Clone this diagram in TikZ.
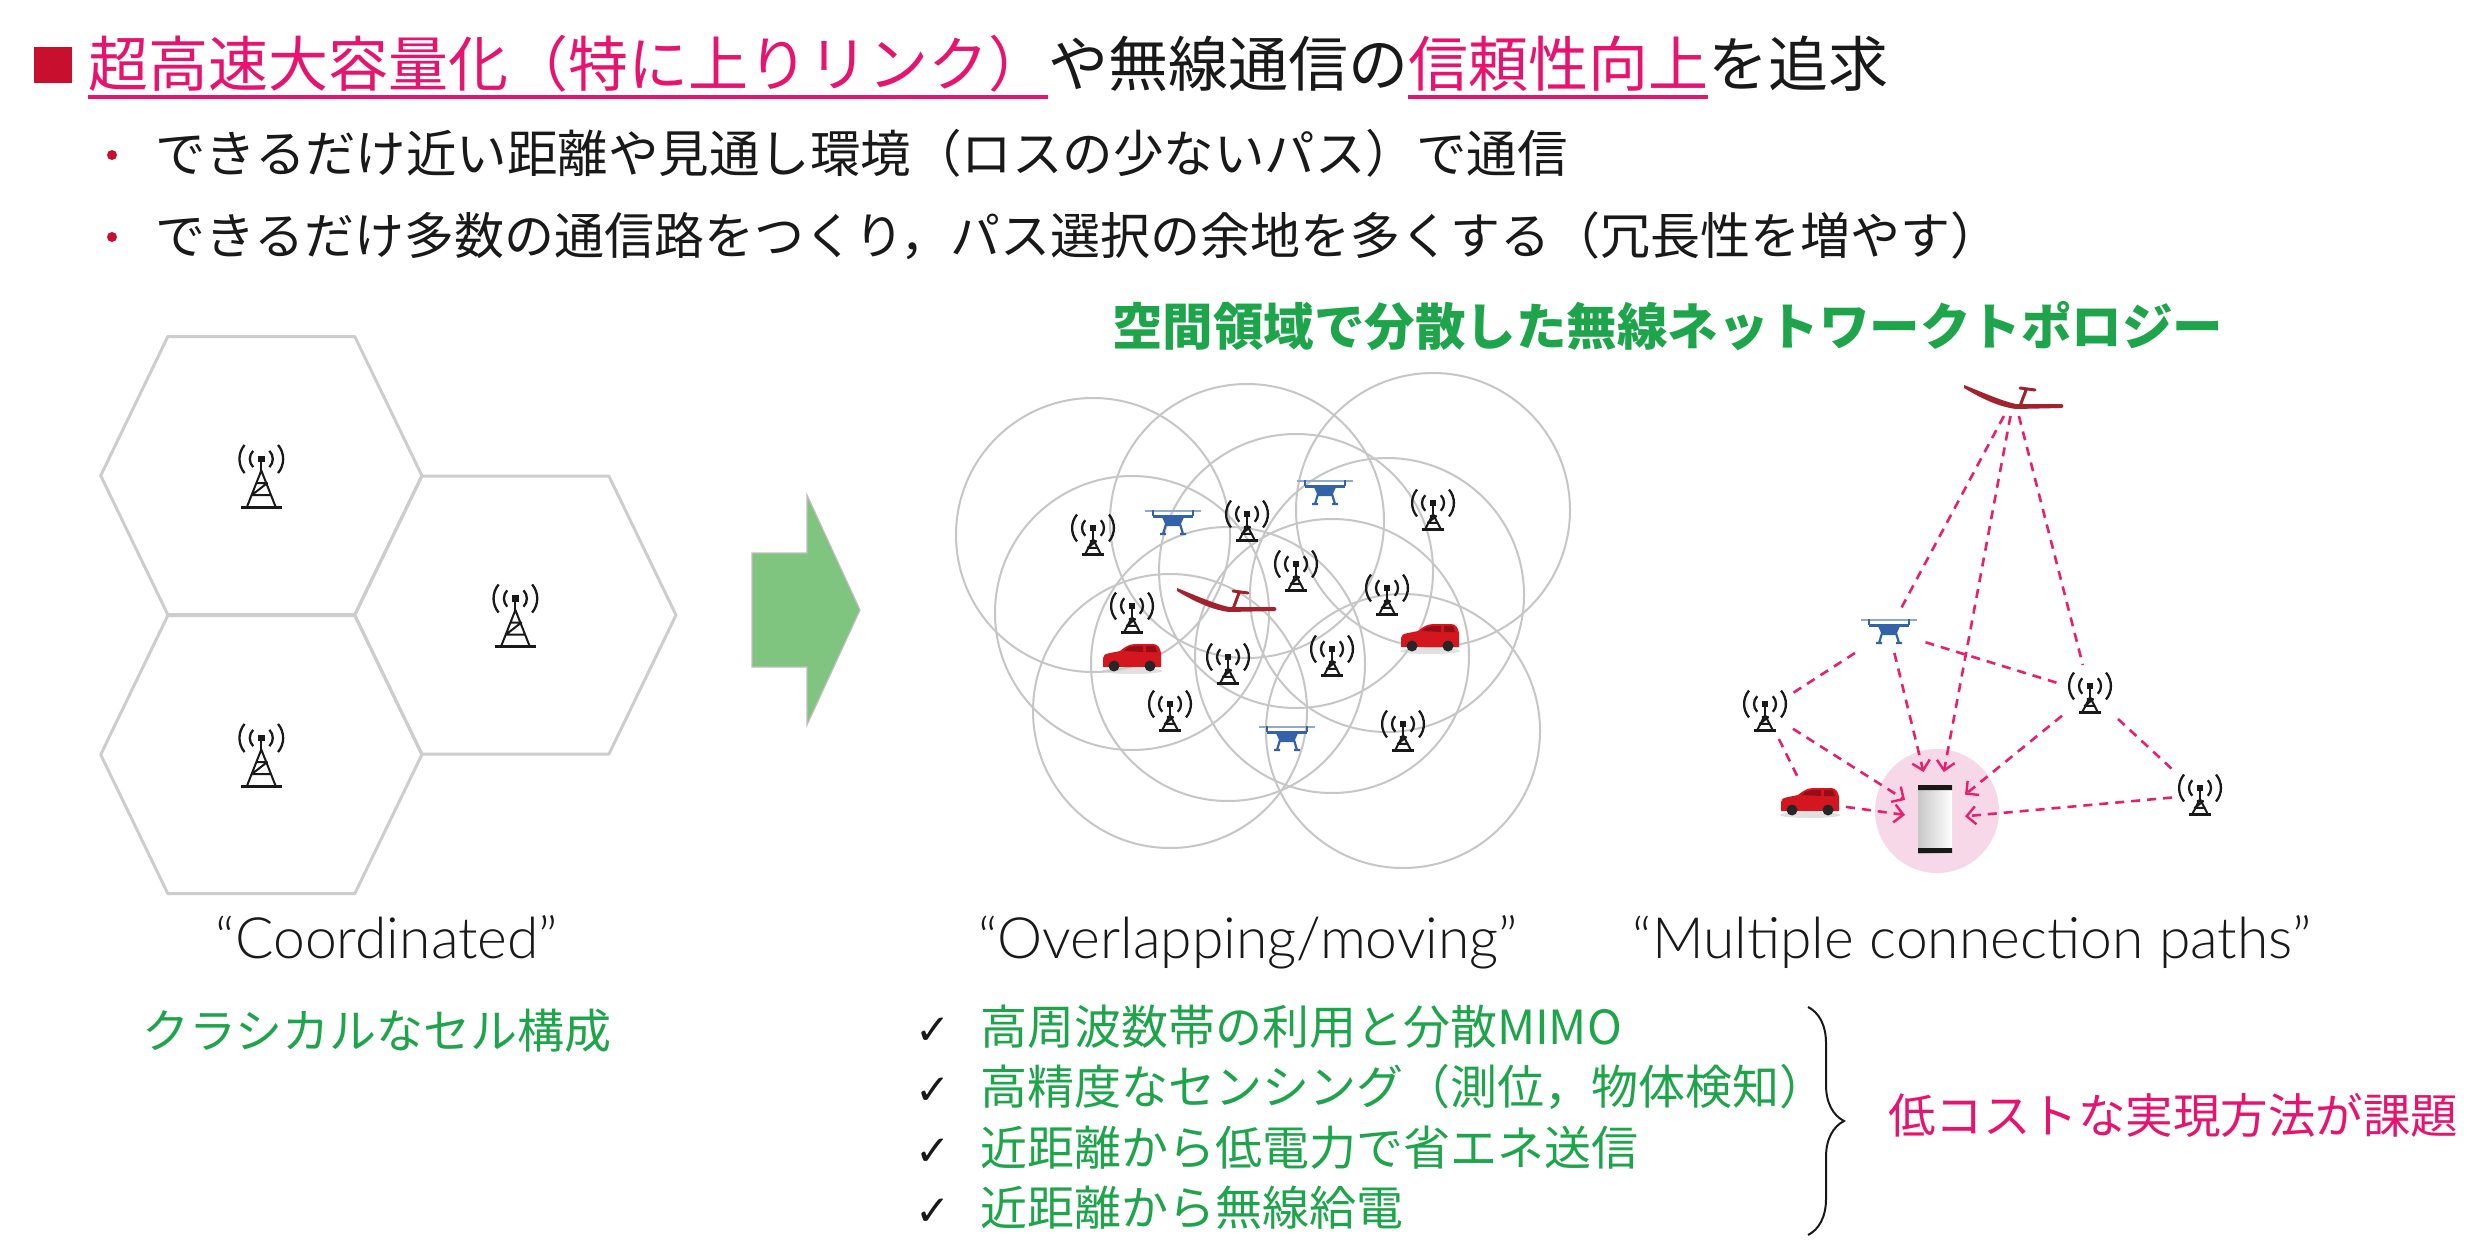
\documentclass[tikz,border=0pt]{standalone}
\usepackage{fontspec}
\usetikzlibrary{arrows.meta,decorations.pathreplacing}
\newfontfamily\jp{Noto Sans CJK JP}
\newfontfamily\sym{DejaVu Sans}
\IfFontExistsTF{Lato Light}{\newfontfamily\lat{Lato Light}}{\newfontfamily\lat{Lato}}
\newcommand\setfs[1]{\fontsize{#1pt}{#1pt}\selectfont}

\definecolor{ttlpink}{RGB}{230,20,110}
\definecolor{sqred}{RGB}{200,16,46}
\definecolor{ink}{RGB}{25,25,25}
\definecolor{jgreen}{RGB}{30,165,75}
\definecolor{cellgray}{RGB}{205,205,205}
\definecolor{ringgray}{RGB}{198,198,198}
\definecolor{arrowgreen}{RGB}{127,196,127}
\definecolor{dronecol}{RGB}{52,98,168}
\definecolor{carred}{RGB}{212,22,30}
\definecolor{planecol}{RGB}{160,35,45}
\definecolor{linkpink}{RGB}{232,30,110}
\definecolor{zonepink}{RGB}{246,216,232}

\tikzset{
  txt/.style={inner sep=0pt, outer sep=0pt, anchor=base west},
  cell/.style={cellgray, line width=3pt, line join=round},
  ring/.style={ringgray, line width=2pt},
  link/.style={linkpink, line width=2.6pt, dash pattern=on 9pt off 7pt},
  into/.style={link, -{Straight Barb[length=9pt, width=18pt, line width=2.4pt]}},
  iconbox/.style={inner sep=0pt, minimum width=#1, minimum height=44pt, outer sep=6pt},
  pics/tower/.style={code={
    \fill[ink] (-3,-3) rectangle (3,3);
    \draw[ink, line width=2.3pt] (135:10) arc[start angle=135, end angle=225, radius=10];
    \draw[ink, line width=2.3pt] (-45:10) arc[start angle=-45, end angle=45, radius=10];
    \draw[ink, line width=2.3pt] (140:19) arc[start angle=140, end angle=220, radius=19];
    \draw[ink, line width=2.3pt] (-40:19) arc[start angle=-40, end angle=40, radius=19];
    \draw[ink, line width=2pt] (0,2) -- (0,10);
    \draw[ink, line width=2pt, line join=round]
      (-0.3*#1,#1) -- (0,10) -- (0.3*#1,#1)
      (-0.12*#1,0.5*#1) -- (0.12*#1,0.5*#1) -- (-0.2*#1,0.75*#1) -- (0.2*#1,0.75*#1);
    \draw[ink, line width=2.8pt] (-0.42*#1,#1) -- (0.42*#1,#1);
  }},
  pics/drone/.style={code={
    \draw[dronecol!55, line width=1.8pt] (-28,-11) -- (28,-11);
    \draw[dronecol, line width=2.2pt] (-20,-12) -- (-20,-6) (20,-12) -- (20,-6);
    \draw[dronecol, line width=3pt] (-20,-6) -- (20,-6);
    \fill[dronecol] (-12,-7) -- (12,-7) -- (7,4) -- (-7,4) -- cycle;
    \draw[dronecol, line width=2.2pt] (-7,2) -- (-10,12) (7,2) -- (10,12)
      (-13,12) -- (-7,12) (7,12) -- (13,12);
  }},
  pics/car/.style={code={
    \fill[black!20, opacity=0.6] (0,13) ellipse [x radius=30, y radius=3];
    \fill[carred] (-29,9) -- (-29,0) .. controls (-29,-3) and (-27,-4) .. (-22,-5)
      -- (-12,-7) .. controls (-6,-12) and (-2,-14) .. (4,-14) -- (21,-14)
      .. controls (26,-14) and (28,-10) .. (29,-5) -- (29,9) -- cycle;
    \fill[carred!70!black] (-8,-7) .. controls (-4,-11) .. (3,-12) -- (11,-12) -- (11,-6) -- cycle;
    \fill[carred!70!black] (14,-12) -- (23,-12) -- (25,-6) -- (14,-6) -- cycle;
    \fill[black!85] (-18,8) circle [radius=5.5] (18,8) circle [radius=5.5];
  }},
  pics/plane/.style={code={
    \fill[planecol] (-50,-12) .. controls (-30,-4) and (-12,4) .. (2,7) -- (48,7)
      .. controls (50,8) and (50,10) .. (48,11) -- (2,12)
      .. controls (-14,10) and (-32,2) .. (-50,-9) -- cycle;
    \draw[planecol, line width=3pt, line cap=round] (6,9) -- (12,-7) (6,-9) -- (21,-7);
  }},
  pics/phone/.style={code={
    \shade[left color=black!22, right color=white] (-17,-34) rectangle (17,34);
    \fill[ink] (-17,-34) rectangle (17,-29) (-17,29) rectangle (17,34);
  }},
  pics/hexcell/.style={code={
    \draw[cell] (-160.6,0) -- (-93.5,-139) -- (93.5,-139) -- (160.6,0)
      -- (93.5,139) -- (-93.5,139) -- cycle;
  }}
}

\begin{document}
\begin{tikzpicture}[x=1pt, y=-1pt]
\useasboundingbox (0,0) rectangle (2470,1241);
\fill[white] (0,0) rectangle (2470,1241);

% ---------- heading lines ----------
\fill[sqred] (34,47) rectangle (72,83);
\node[txt, text=ttlpink, font=\jp\setfs{60}] (ttlA) at (88,87) {超高速大容量化（特に上りリンク）};
\node[txt, text=ink, font=\jp\setfs{60}] (ttlB) at (ttlA.base east) {や無線通信の};
\node[txt, text=ttlpink, font=\jp\setfs{60}] (ttlC) at (ttlB.base east) {信頼性向上};
\node[txt, text=ink, font=\jp\setfs{60}] (ttlD) at (ttlC.base east) {を追求};
\draw[ttlpink, line width=4pt] ([yshift=-10pt]ttlA.base west) -- ([yshift=-10pt]ttlA.base east);
\draw[ttlpink, line width=4pt] ([yshift=-10pt]ttlC.base west) -- ([yshift=-10pt]ttlC.base east);

\fill[sqred] (112,155) circle [radius=5];
\fill[sqred] (112,237) circle [radius=5];
\node[txt, text=ink, font=\jp\setfs{50.5}] (bul1) at (155,173) {できるだけ近い距離や見通し環境（ロスの少ないパス）で通信};
\node[txt, text=ink, font=\jp\setfs{50}] (bul2) at (155,255) {できるだけ多数の通信路をつくり，パス選択の余地を多くする（冗長性を増やす）};

\node[txt, text=jgreen, font=\jp\bfseries\setfs{50.5}] (topo) at (1112,345) {空間領域で分散した無線ネットワークトポロジー};

% ---------- classical hexagonal cells ----------
\pic at (261.3,475.6) {hexcell};
\pic at (261.3,754.6) {hexcell};
\pic at (515.4,615.1) {hexcell};
\pic[scale=1.15] at (261.3,459) {tower=42};
\pic[scale=1.15] at (261.3,738) {tower=42};
\pic[scale=1.15] at (515.4,598.5) {tower=42};

% ---------- transition arrow ----------
\fill[arrowgreen, draw=black!25, line width=1.2pt, line join=miter]
  (752,553) -- (807,553) -- (807,495) -- (860,610) -- (807,725) -- (807,667) -- (752,667) -- cycle;

% ---------- overlapping cells ----------
\foreach \x/\y in {1093/535, 1247/521, 1433/510, 1296/571, 1387/595,
                   1132/613, 1228/664, 1332/656, 1170/711, 1403/731}
  \draw[ring] (\x,\y) circle [radius=137];
\foreach \x/\y in {1093/535, 1247/521, 1433/510, 1296/571, 1387/595,
                   1132/613, 1228/664, 1332/656, 1170/711, 1403/731}
  \pic[scale=1.1] at (\x,\y-7) {tower=24};
\pic at (1173,522) {drone};
\pic at (1325,492) {drone};
\pic at (1287,738) {drone};
\pic at (1132,658) {car};
\pic at (1430,638) {car};
\pic at (1227,600) {plane};

% ---------- multiple connection paths ----------
\fill[zonepink] (1937,811) circle [radius=62];
\node[iconbox=100pt, minimum height=26pt] (plane2) at (2014,397) {};
\node[iconbox=57pt, minimum height=28pt, outer sep=8pt] (drone2) at (1889,631) {};
\node[iconbox=44pt] (towerL) at (1765,711) {};
\node[iconbox=44pt] (towerR) at (2090,693) {};
\node[iconbox=44pt] (towerRR) at (2200,795) {};
\node[iconbox=60pt, minimum height=30pt] (car3) at (1810,802) {};
\node[iconbox=34pt, minimum height=68pt, outer sep=13pt] (phone) at (1935,819) {};

\draw[link] (plane2) -- (drone2);
\draw[into] (plane2) -- (phone);
\draw[link] (plane2) -- (towerR);
\draw[link] (drone2) -- (towerL);
\draw[into] (drone2) -- (phone);
\draw[link] (drone2) -- (towerR);
\draw[link] (towerL) -- (car3);
\draw[into] (towerL) -- (phone);
\draw[into] (car3) -- (phone);
\draw[into] (towerR) -- (phone);
\draw[link] (towerR) -- (towerRR);
\draw[into] (towerRR) -- (phone);

\pic at (plane2.center) {plane};
\pic at (drone2.center) {drone};
\pic[scale=1.1] at ([yshift=7pt]towerL.center) {tower=24};
\pic[scale=1.1] at ([yshift=7pt]towerR.center) {tower=24};
\pic[scale=1.1] at ([yshift=7pt]towerRR.center) {tower=24};
\pic at (car3.center) {car};
\pic at (phone.center) {phone};

% ---------- captions ----------
\node[anchor=base, inner sep=0pt, text=ink, font=\lat\setfs{57}] (capA) at (387,958) {“Coordinated”};
\node[anchor=base, inner sep=0pt, text=ink, font=\lat\setfs{57}] (capB) at (1248,958) {“Overlapping/moving”};
\node[anchor=base, inner sep=0pt, text=ink, font=\lat\setfs{57}] (capC) at (1972,958) {“Multiple connection paths”};
\node[txt, text=jgreen, font=\jp\setfs{47}] (classic) at (142,1048) {クラシカルなセル構成};

% ---------- requirement list ----------
\foreach \t/\yy [count=\i] in {高周波数帯の利用と分散MIMO/1044, 高精度なセンシング（測位，物体検知）/1104,
                               近距離から低電力で省エネ送信/1165, 近距離から無線給電/1225} {
  \node[anchor=base, inner sep=0pt, text=ink, font=\sym\setfs{42}] (chk\i) at (933,\yy) {✓};
  \node[txt, text=jgreen, font=\jp\setfs{47}] (req\i) at (980,\yy) {\t};
}
\draw[ink, line width=2pt, decorate, decoration={brace, amplitude=36pt}] (1808,1007) -- (1808,1235);
\node[txt, text=ttlpink, font=\jp\setfs{47.5}] (cost) at (1888,1133) {低コストな実現方法が課題};
\end{tikzpicture}
\end{document}
